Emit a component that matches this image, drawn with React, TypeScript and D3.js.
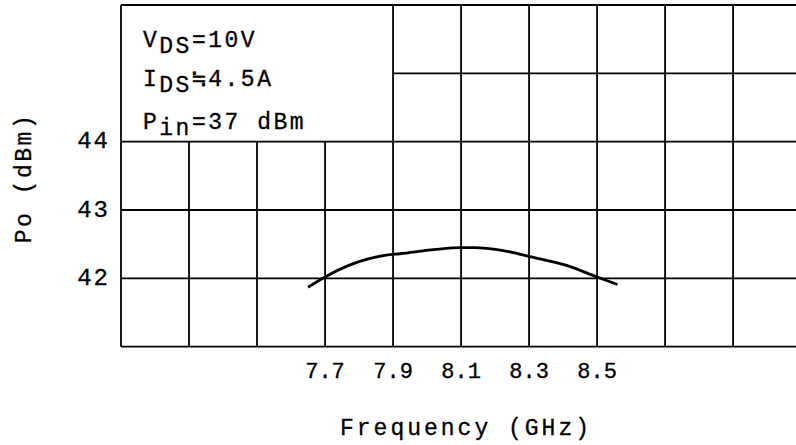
import * as d3 from "d3";

// curve (frequency in GHz, output power in dBm)
const freq = [7.65, 7.7, 7.77, 7.88, 7.92, 8.02, 8.1, 8.14, 8.22, 8.31, 8.41, 8.5, 8.56];
const po = [41.87, 42.02, 42.19, 42.34, 42.36, 42.42, 42.45, 42.45, 42.41, 42.31, 42.19, 42.02, 41.91];

const xTickLabels = ["7.7", "7.9", "8.1", "8.3", "8.5"];
const yTickLabels = [42, 43, 44];
const xGrid = [7.1, 7.3, 7.5, 7.7, 7.9, 8.1, 8.3, 8.5, 8.7, 8.9];
const yGrid = [41, 42, 43, 44, 45, 46];

const W = 796;
const H = 445;
const FONT = "'Liberation Mono', 'DejaVu Sans Mono', monospace";

export default function App() {
  const x = d3.scaleLinear().domain([7.1, 9.085]).range([121, 796]);
  const y = d3.scaleLinear().domain([41, 46]).range([346.7, 5]);

  const line = d3
    .line<number>()
    .x((_, i) => x(freq[i]))
    .y((d) => y(d))
    .curve(d3.curveMonotoneX);

  // legend box occupies top-left: x 7.1..7.9, y 44..46
  const boxRight = 7.9;
  const boxBottom = 44;

  return (
    <svg
      width={W}
      height={H}
      style={{ position: "absolute", left: 0, top: 0, background: "#fff" }}
    >
      <rect width={W} height={H} fill="#fff" />
      <g stroke="#000" strokeWidth={1.8}>
        {xGrid.map((v) => {
          const inBox = v > 7.1 && v < boxRight;
          return (
            <line
              key={"vx" + v}
              x1={x(v)}
              x2={x(v)}
              y1={inBox ? y(boxBottom) : y(46)}
              y2={y(41)}
            />
          );
        })}
        {yGrid.map((v) => {
          const inBox = v > boxBottom && v < 46;
          return (
            <line
              key={"hy" + v}
              x1={inBox ? x(boxRight) : x(7.1)}
              x2={W}
              y1={y(v)}
              y2={y(v)}
            />
          );
        })}
      </g>

      <path d={line(po) ?? ""} fill="none" stroke="#000" strokeWidth={2.8} />

      <g fontFamily={FONT} fontSize={23} fill="#000" stroke="#000" strokeWidth={0.3}>
        {yTickLabels.map((v) => (
          <text
            key={"yt" + v}
            x={110}
            y={y(v)}
            textAnchor="end"
            dominantBaseline="central"
            fontSize={24}
            letterSpacing={2}
          >
            {v}
          </text>
        ))}
        {xTickLabels.map((t) => (
          <text key={"xt" + t} x={x(+t)} y={378} textAnchor="middle" fontSize={22}>
            {t}
          </text>
        ))}
        <text x={466} y={435} textAnchor="middle" fontSize={23} letterSpacing={3}>
          Frequency (GHz)
        </text>
        <text
          transform="translate(31,178) rotate(-90)"
          textAnchor="middle"
          letterSpacing={2.5}
        >
          P<tspan>o</tspan>
          <tspan> (dBm)</tspan>
        </text>

        <g letterSpacing={2.5}>
          <text x={143} y={47}>
            V<tspan dy={6}>DS</tspan>
            <tspan dy={-6}>=10V</tspan>
          </text>
          <text x={143} y={86}>
            I<tspan dy={6}>DS</tspan>
            <tspan dy={-6}>≒4.5A</tspan>
          </text>
          <text x={143} y={129}>
            P<tspan dy={6}>in</tspan>
            <tspan dy={-6}>=37 dBm</tspan>
          </text>
        </g>
      </g>
    </svg>
  );
}
